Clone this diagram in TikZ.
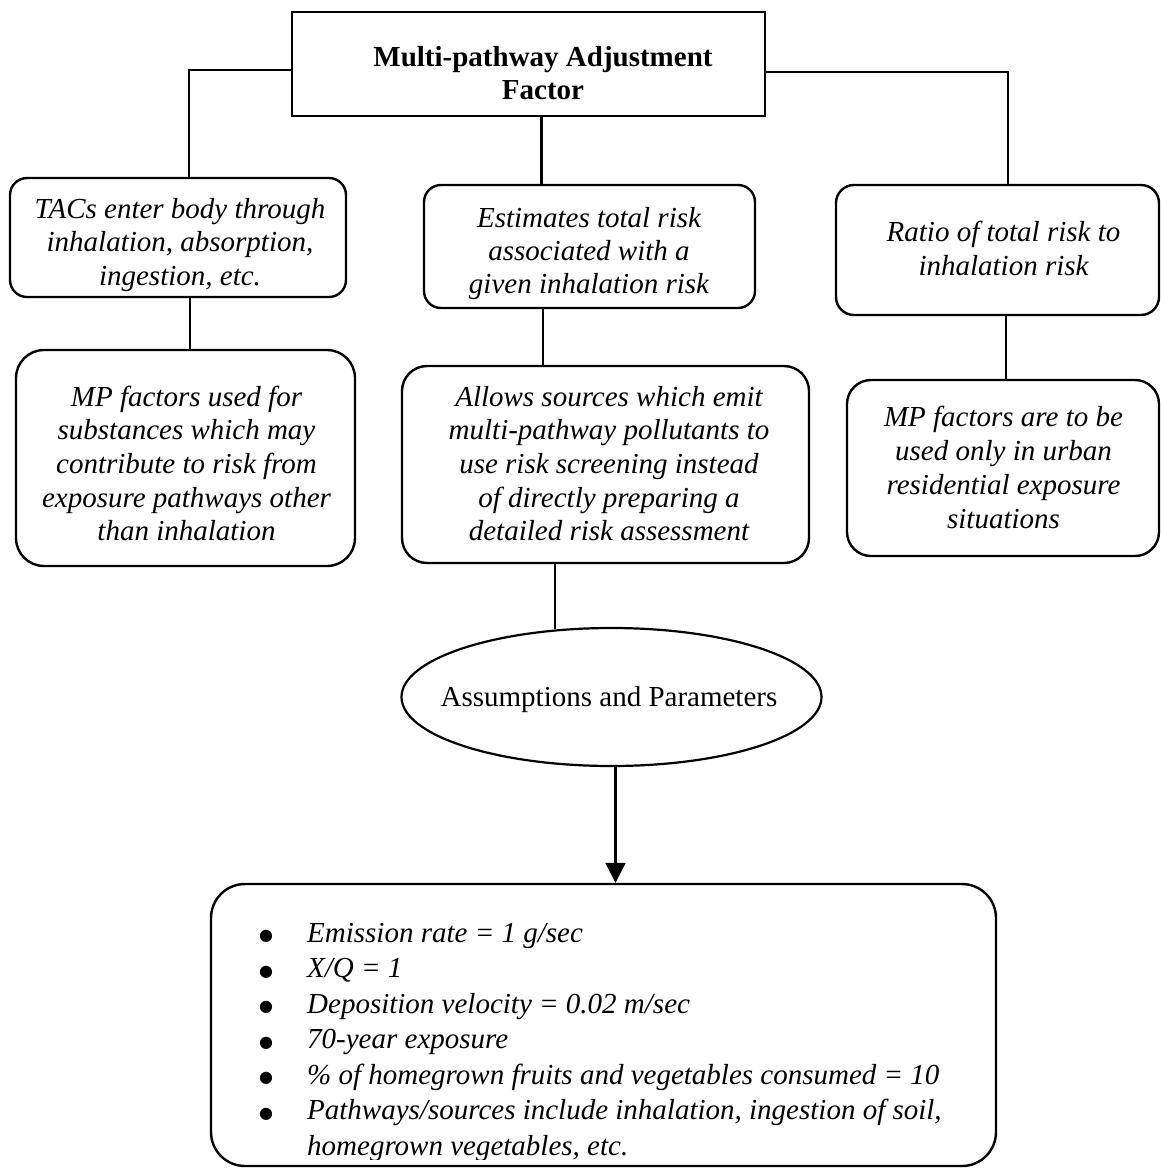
\documentclass[tikz,border=0pt]{standalone}
\usepackage{fontspec}
\setmainfont{Liberation Serif}
\newfontfamily\symfont{DejaVu Sans}
\usetikzlibrary{shapes.geometric,arrows.meta}

% centred multi-line text whose baseline is the first line
\newcommand{\boxlines}[2]{{\fontsize{29}{#1}\selectfont\begin{tabular}[t]{@{}c@{}}#2\end{tabular}}}
% bullet used in the parameter list
\newcommand{\itembullet}{\makebox[47pt][l]{\hspace{-1pt}\raisebox{1.5pt}{\symfont\upshape\fontsize{16}{16}\selectfont ●}}}

\tikzset{
  frame/.style={draw, line width=2.4pt, inner sep=0pt},
  roundbox/.style={frame, rounded corners=#1},
  label/.style={inner sep=0pt, anchor=base},
  link/.style={line width=2.2pt},
}

\begin{document}
\begin{tikzpicture}[x=1pt, y=-1pt]
\useasboundingbox (0,0) rectangle (1161,1168);

% ---- boxes ----
\node[frame, minimum width=473pt, minimum height=104pt] (title) at (528.5,64) {};
\node[roundbox=17pt, minimum width=336pt, minimum height=119pt] (A) at (178,237.5) {};
\node[roundbox=17pt, minimum width=331pt, minimum height=123pt] (B) at (589.5,246.5) {};
\node[roundbox=18pt, minimum width=323pt, minimum height=130pt] (C) at (997.5,250) {};
\node[roundbox=28pt, minimum width=339pt, minimum height=216pt] (D) at (185.5,458) {};
\node[roundbox=25pt, minimum width=407pt, minimum height=197pt] (E) at (605.5,464.5) {};
\node[roundbox=24pt, minimum width=312pt, minimum height=176pt] (F) at (1003,468) {};
\node[draw, ellipse, line width=2.2pt, inner sep=0pt, minimum width=420pt, minimum height=138pt] (G) at (611.5,697) {};
\node[roundbox=34pt, minimum width=785pt, minimum height=282pt] (H) at (603.5,1025) {};

% ---- texts ----
\node[label, font=\bfseries] (titleT) at (543,66) {\boxlines{33.5}{Multi-pathway Adjustment\\Factor}};
\begin{scope}
  \clip (A.north west) rectangle ([yshift=5.5pt]A.south east);
  \node[label, font=\itshape] (AT) at (180,218) {\boxlines{33.8}{TACs enter body through\\inhalation, absorption,\\ingestion, etc.}};
\end{scope}
\begin{scope}
  \clip (B.north west) rectangle ([yshift=5pt]B.south east);
  \node[label, font=\itshape] (BT) at (589,227.5) {\boxlines{33}{Estimates total risk\\associated with a\\given inhalation risk}};
\end{scope}
\node[label, font=\itshape] (CT) at (1003.5,241) {\boxlines{34.5}{Ratio of total risk to\\inhalation risk}};
\node[label, font=\itshape] (DT) at (186.5,406) {\boxlines{33.7}{MP factors used for\\substances which may\\contribute to risk from\\exposure pathways other\\than inhalation}};
\node[label, font=\itshape] (ET) at (609,406) {\boxlines{33.7}{Allows sources which emit\\multi-pathway pollutants to\\use risk screening instead\\of directly preparing a\\detailed risk assessment}};
\node[label, font=\itshape] (FT) at (1003.5,426) {\boxlines{34}{MP factors are to be\\used only in urban\\residential exposure\\situations}};
\node[label] (GT) at (609,706) {\fontsize{29}{34}\selectfont Assumptions and Parameters};
\begin{scope}
  \clip (H.north west) rectangle ([yshift=8pt]H.south east);
  \node[inner sep=0pt, anchor=base west, font=\itshape] (HT) at (260,942) {{\fontsize{29}{35.5}\selectfont
    \begin{tabular}[t]{@{}l@{}l@{}}
    \itembullet & Emission rate = 1 g/sec\\
    \itembullet & X/Q = 1\\
    \itembullet & Deposition velocity = 0.02 m/sec\\
    \itembullet & 70-year exposure\\
    \itembullet & \% of homegrown fruits and vegetables consumed = 10\\
    \itembullet & Pathways/sources include inhalation, ingestion of soil,\\
                & homegrown vegetables, etc.
    \end{tabular}}};
\end{scope}

% ---- connectors ----
\draw[link] ([yshift=-6pt]title.west) -| ([xshift=11pt]A.north);
\draw[link] ([yshift=-8pt]title.east) -| ([xshift=10.5pt]C.north);
\draw[link] ([xshift=13pt]title.south) -- ([xshift=-48pt]B.north);
\draw[link] ([xshift=12pt]A.south) -- ([xshift=4.5pt]D.north);
\draw[link] ([xshift=-46.5pt]B.south) -- ([xshift=-62.5pt]E.north);
\draw[link] ([xshift=8.5pt]C.south) -- ([xshift=3pt]F.north);
\draw[link] (G.130.9 |- E.south) -- (G.130.9);
\draw[link, -{Triangle[width=20pt, length=20pt]}] ([xshift=4pt]G.south) -- ([xshift=4pt]G.south |- H.north);
\end{tikzpicture}
\end{document}
